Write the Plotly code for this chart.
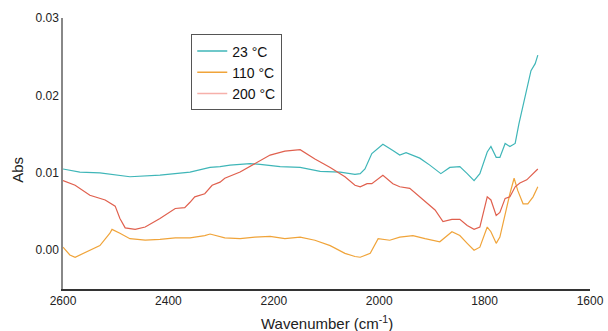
import plotly.graph_objects as go

# 23 °C (teal)
wn_23 = [2600, 2568, 2530, 2473, 2416, 2359, 2321, 2302, 2283, 2245, 2226, 2188, 2150, 2112, 2074, 2046,
         2036, 2027, 2014, 1993, 1974, 1961, 1949, 1923, 1904, 1883, 1866, 1847, 1833, 1820, 1809, 1795,
         1788, 1778, 1771, 1761, 1752, 1742, 1735, 1727, 1720, 1712, 1704, 1699]
abs_23 = [0.0105, 0.0101, 0.0100, 0.0095, 0.0097, 0.0101, 0.0107, 0.0108, 0.0110, 0.0112, 0.0111, 0.0108,
          0.0107, 0.0102, 0.0101, 0.0098, 0.0099, 0.0105, 0.0125, 0.0137, 0.0129, 0.0123, 0.0126, 0.0119,
          0.0110, 0.0099, 0.0107, 0.0108, 0.0099, 0.0090, 0.0099, 0.0127, 0.0134, 0.0120, 0.0120, 0.0138,
          0.0134, 0.0138, 0.0163, 0.0187, 0.0206, 0.0232, 0.0241, 0.0252]

# 110 °C (orange)
wn_110 = [2600, 2587, 2577, 2558, 2530, 2511, 2507, 2492, 2473, 2444, 2416, 2387, 2359, 2331, 2321, 2293,
          2264, 2236, 2207, 2179, 2150, 2122, 2093, 2065, 2046, 2036, 2017, 2002, 1980, 1961, 1936, 1913,
          1885, 1862, 1847, 1833, 1820, 1809, 1795, 1788, 1778, 1771, 1761, 1752, 1744, 1737, 1727, 1718,
          1708, 1699]
abs_110 = [0.0004, -0.0006, -0.0009, -0.0003, 0.0006, 0.0022, 0.0027, 0.0022, 0.0015, 0.0013, 0.0014,
           0.0016, 0.0016, 0.0019, 0.0021, 0.0016, 0.0015, 0.0017, 0.0018, 0.0015, 0.0017, 0.0013, 0.0006,
           -0.0004, -0.0008, -0.0009, -0.0004, 0.0015, 0.0013, 0.0017, 0.0019, 0.0015, 0.0011, 0.0024,
           0.0019, 0.0009, 0.0000, 0.0004, 0.0030, 0.0024, 0.0009, 0.0017, 0.0047, 0.0073, 0.0093, 0.0077,
           0.0060, 0.0060, 0.0069, 0.0082]

# 200 °C (red)
wn_200 = [2600, 2577, 2549, 2520, 2501, 2492, 2482, 2463, 2444, 2416, 2387, 2369, 2359, 2350, 2331, 2317,
          2302, 2293, 2264, 2236, 2207, 2179, 2150, 2122, 2093, 2065, 2046, 2036, 2023, 2014, 1993, 1974,
          1961, 1942, 1923, 1894, 1879, 1862, 1847, 1833, 1820, 1809, 1795, 1788, 1778, 1771, 1761, 1752,
          1742, 1733, 1720, 1708, 1699]
abs_200 = [0.0090, 0.0084, 0.0071, 0.0065, 0.0057, 0.0041, 0.0029, 0.0027, 0.0030, 0.0041, 0.0054, 0.0055,
           0.0062, 0.0069, 0.0073, 0.0084, 0.0088, 0.0093, 0.0101, 0.0112, 0.0123, 0.0128, 0.0130, 0.0118,
           0.0107, 0.0095, 0.0084, 0.0082, 0.0086, 0.0086, 0.0097, 0.0086, 0.0082, 0.0080, 0.0069, 0.0052,
           0.0037, 0.0040, 0.0040, 0.0032, 0.0027, 0.0030, 0.0069, 0.0065, 0.0045, 0.0049, 0.0067, 0.0069,
           0.0082, 0.0087, 0.0091, 0.0099, 0.0105]

labels = ["23 °C", "110 °C", "200 °C"]
line_colors = ["#3fb6b8", "#f0a43a", "#e0604e"]
legend_colors = ["#3fb6b8", "#f0a43a", "#f6b0aa"]

x_ticks = [2600, 2400, 2200, 2000, 1800, 1600]
y_ticks = [0.00, 0.01, 0.02, 0.03]

fig = go.Figure()
series = [(wn_23, abs_23), (wn_110, abs_110), (wn_200, abs_200)]
for (xs, ys), c in zip(series, line_colors):
    fig.add_trace(go.Scatter(x=xs, y=ys, mode="lines", line=dict(color=c, width=1.2),
                             showlegend=False, hoverinfo="skip"))
for lab, c in zip(labels, legend_colors):
    fig.add_trace(go.Scatter(x=[None], y=[None], mode="lines", name=lab,
                             line=dict(color=c, width=1.5)))

font_family = "Liberation Sans, Arial, sans-serif"
fig.update_layout(
    width=608, height=331,
    margin=dict(l=63, r=18, t=18, b=42),
    paper_bgcolor="white", plot_bgcolor="white",
    font=dict(family=font_family, color="#222"),
    xaxis=dict(range=[2600, 1600], tickvals=x_ticks, ticktext=[str(v) for v in x_ticks],
               showgrid=False, zeroline=False, showline=True, linecolor="#333", linewidth=1.5,
               ticks="", tickfont=dict(size=12, color="#222"), automargin=False),
    yaxis=dict(range=[-0.005, 0.03], tickvals=y_ticks, ticktext=["0.00", "0.01", "0.02", "0.03"],
               showgrid=False, zeroline=False, showline=True, linecolor="#888", linewidth=1.5,
               ticks="", tickfont=dict(size=12, color="#222"), automargin=False),
    legend=dict(x=0.243, y=0.94, xanchor="left", yanchor="top",
                bordercolor="#555", borderwidth=1.2, bgcolor="white",
                font=dict(size=14, color="#111"), tracegroupgap=0, itemwidth=30),
    annotations=[
        dict(text="Abs", x=-0.0854, y=0.44, xref="paper", yref="paper",
             xanchor="center", yanchor="middle",
             textangle=-90, showarrow=False, font=dict(size=15, color="#222")),
        dict(text="Wavenumber (cm<sup>-1</sup>)", x=0.5, y=-0.122, xref="paper", yref="paper",
             xanchor="center", yanchor="middle", showarrow=False, font=dict(size=15, color="#222")),
    ],
)

fig.write_html("out.html")
